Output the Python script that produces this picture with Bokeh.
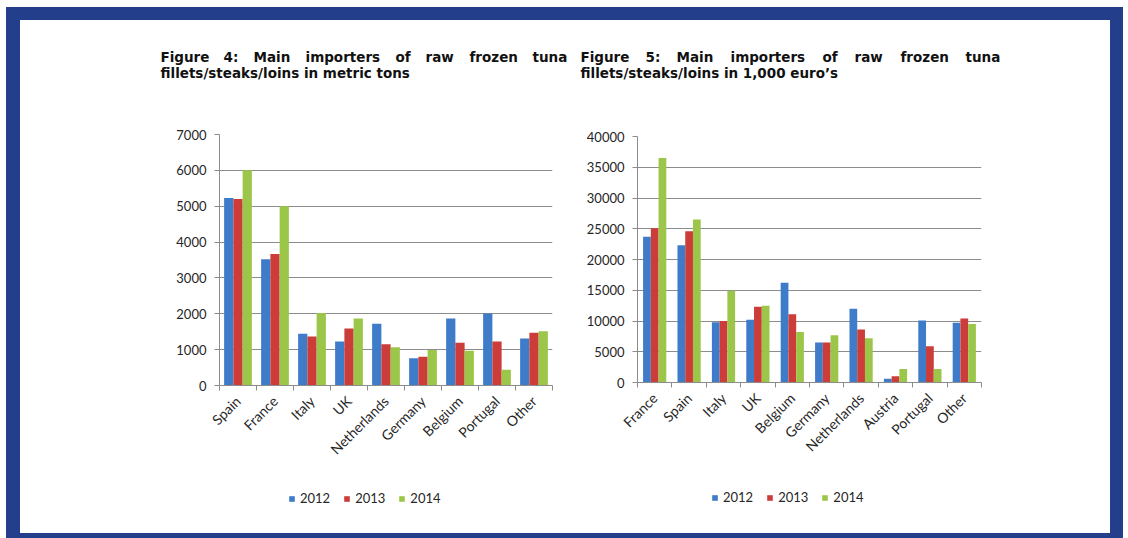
import math
from bokeh.plotting import figure
from bokeh.models import (Range1d, LinearAxis, FixedTicker, SingleIntervalTicker, Label, Legend,
                          LegendItem, NumeralTickFormatter, ColumnDataSource, Plot)
from bokeh.transform import dodge
from bokeh.layouts import row, column
from bokeh.embed import file_html
from bokeh.resources import INLINE

# ---------------- data ----------------
years = ["2012", "2013", "2014"]

cats_tons = ["Spain", "France", "Italy", "UK", "Netherlands", "Germany", "Belgium", "Portugal", "Other"]
tons_2012 = [5230, 3520, 1440, 1230, 1720, 760, 1870, 2010, 1310]
tons_2013 = [5200, 3670, 1370, 1590, 1150, 800, 1190, 1230, 1470]
tons_2014 = [6000, 5000, 2020, 1870, 1070, 990, 970, 440, 1510]

cats_eur = ["France", "Spain", "Italy", "UK", "Belgium", "Germany", "Netherlands", "Austria", "Portugal", "Other"]
eur_2012 = [23700, 22300, 9800, 10200, 16200, 6500, 12000, 600, 10100, 9700]
eur_2013 = [25100, 24600, 10000, 12300, 11100, 6500, 8600, 1000, 5900, 10400]
eur_2014 = [36500, 26500, 14900, 12500, 8200, 7700, 7200, 2200, 2200, 9500]

title4_words = ["Figure", "4:", "Main", "importers", "of", "raw", "frozen", "tuna"]
title4_line2 = "fillets/steaks/loins in metric tons"
title5_words = ["Figure", "5:", "Main", "importers", "of", "raw", "frozen", "tuna"]
title5_line2 = "fillets/steaks/loins in 1,000 euro\u2019s"

COLORS = ["#3E7BC8", "#CC3D3A", "#9BC64A"]
GRID = "#8C8C8C"
TXT = "#262626"
FONT = "Lato"
TFONT = "DejaVu Sans"
BLUE_FRAME = "#233F8B"
HAS_FA = "frame_align" in Plot.properties()


def blank_fig(width, height):
    f = figure(width=width, height=height, x_range=Range1d(0, 1), y_range=Range1d(0, 1),
               output_backend="svg", toolbar_location=None, x_axis_location=None,
               y_axis_location=None, min_border=0)
    f.outline_line_color = None
    f.grid.visible = False
    f.background_fill_color = "white"
    f.border_fill_color = "white"
    if HAS_FA:
        f.frame_align = False
    return f


def title_fig(width, height, words, word_x, line2, line_y):
    f = blank_fig(width, height)
    for w, x in zip(words, word_x):
        f.add_layout(Label(x=x, y=line_y[0], x_units="screen", y_units="screen", text=w,
                           text_font=TFONT, text_font_size="13.5px", text_font_style="bold",
                           text_color="#111111", text_baseline="alphabetic"))
    f.add_layout(Label(x=word_x[0], y=line_y[1], x_units="screen", y_units="screen", text=line2,
                       text_font=TFONT, text_font_size="13.5px", text_font_style="bold",
                       text_color="#111111", text_baseline="alphabetic"))
    return f


def legend_fig(width, height, loc):
    f = blank_fig(width, height)
    items = []
    for yr, col in zip(years, COLORS):
        # zero-height swatch source: nothing visible in the plot area, only in the legend
        r = f.vbar(x=[0], top=[0], width=0, fill_color=col, line_color=None)
        items.append(LegendItem(label=yr, renderers=[r]))
    lg = Legend(items=items, orientation="horizontal", location=loc,
                glyph_width=7, glyph_height=7, label_standoff=5, spacing=13,
                padding=0, margin=0, border_line_color=None, background_fill_alpha=0,
                label_text_font=FONT, label_text_font_size="13px", label_text_color=TXT)
    f.add_layout(lg)
    return f


def chart_fig(cats, vals, ymax, ystep, width, height, borders, bar_w):
    bl, br, bt, bb = borders
    n = len(cats)
    p = figure(x_range=Range1d(-0.5, n - 0.5), y_range=Range1d(0, ymax),
               width=width, height=height, output_backend="svg", toolbar_location=None,
               x_axis_location=None, min_border_left=bl, min_border_right=br,
               min_border_top=bt, min_border_bottom=bb)
    p.outline_line_color = None
    p.background_fill_color = "white"
    p.border_fill_color = "white"

    idx = list(range(n))
    src = ColumnDataSource(dict(idx=idx, cat=cats, y2012=vals[0], y2013=vals[1], y2014=vals[2]))
    for i, (yr, col) in enumerate(zip(years, COLORS)):
        p.vbar(x=dodge("idx", (i - 1) * bar_w), top="y" + yr,
               width=bar_w, source=src, fill_color=col, line_color=None)

    yax = p.yaxis[0]
    yax.ticker = SingleIntervalTicker(interval=ystep)
    yax.formatter = NumeralTickFormatter(format="0")
    yax.axis_line_color = GRID
    yax.major_tick_line_color = GRID
    yax.major_tick_out = 5
    yax.major_tick_in = 0
    yax.minor_tick_line_color = None
    yax.major_label_text_font = FONT
    yax.major_label_text_font_size = "13px"
    yax.major_label_text_color = TXT
    yax.major_label_standoff = 8
    p.ygrid.ticker = SingleIntervalTicker(interval=ystep)
    p.ygrid.grid_line_color = GRID
    for g in p.xgrid:
        g.visible = False

    # x axis: labels at category centres, tick marks (minor) at category boundaries
    cax = LinearAxis(ticker=FixedTicker(ticks=idx, minor_ticks=[k - 0.5 for k in range(n + 1)]),
                     major_label_overrides={k: c for k, c in zip(idx, cats)},
                     axis_line_color=GRID, major_tick_line_color=None,
                     minor_tick_line_color=GRID, minor_tick_out=5, minor_tick_in=0,
                     major_label_orientation=math.pi / 4,
                     major_label_text_font=FONT, major_label_text_font_size="14px",
                     major_label_text_color=TXT, major_label_standoff=7)
    p.add_layout(cax, "below")
    return p


# left block: page x 20..572 ; right block: page x 572..1110 ; top 20, bottom 533
t1 = title_fig(552, 70, title4_words, [140, 203, 233, 285, 375, 405, 449, 512], title4_line2, (34, 18))
c1 = chart_fig(cats_tons, [tons_2012, tons_2013, tons_2014], 7000, 1000, 552, 385,
               (199, 20, 44, 90), 0.25)
l1 = legend_fig(552, 58, (268, 27))

t2 = title_fig(538, 70, title5_words, [8, 73, 104, 158, 250, 282, 328, 393], title5_line2, (34, 18))
c2 = chart_fig(cats_eur, [eur_2012, eur_2013, eur_2014], 40000, 5000, 538, 385,
               (65, 129, 46, 93), 0.225)
l2 = legend_fig(538, 58, (139, 28))

inner = row(column(t1, c1, l1), column(t2, c2, l2), margin=(13, 13, 5, 14),
            styles={"background-color": "white"})
outer = column(inner, margin=(7, 5, 0, 6), styles={"background-color": BLUE_FRAME})

open("out.html", "w").write(file_html(outer, INLINE))
